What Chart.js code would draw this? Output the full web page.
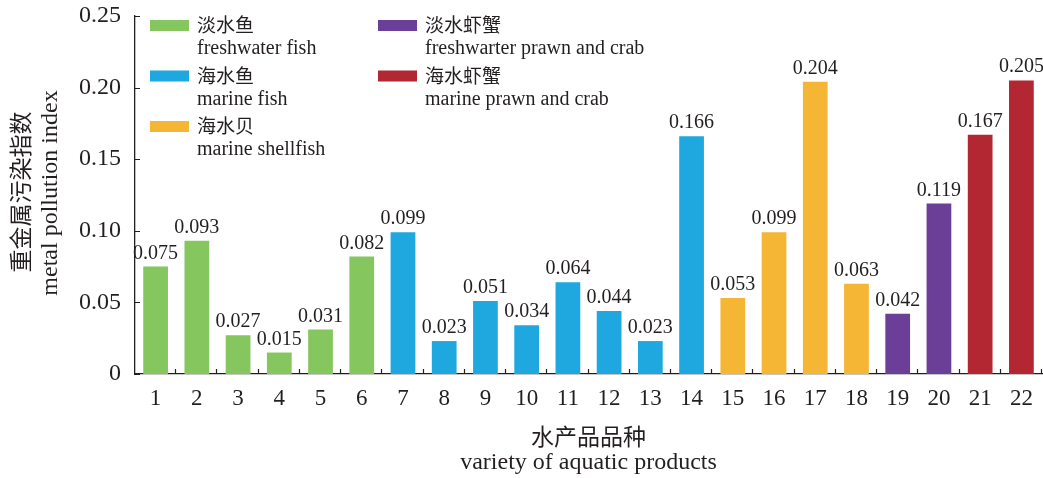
<!DOCTYPE html>
<html>
<head>
<meta charset="utf-8">
<script src="https://cdn.jsdelivr.net/npm/chart.js@4"></script>
<style>
  html, body { margin: 0; padding: 0; background: #fff; }
  #wrap { width: 1043px; height: 478px; }
</style>
</head>
<body>
<div id="wrap"><canvas id="myChart" width="1043" height="478"></canvas></div>
<script>
// 数据
const categories = ['1','2','3','4','5','6','7','8','9','10','11','12','13','14','15','16','17','18','19','20','21','22'];
const values = [0.075, 0.093, 0.027, 0.015, 0.031, 0.082, 0.099, 0.023, 0.051, 0.034, 0.064,
                0.044, 0.023, 0.166, 0.053, 0.099, 0.204, 0.063, 0.042, 0.119, 0.167, 0.205];
// group index for each bar
const groups = [0,0,0,0,0,0, 1,1,1,1,1,1,1,1, 2,2,2,2, 3,3, 4,4];
const groupNamesCn = ['淡水鱼', '海水鱼', '海水贝', '淡水虾蟹', '海水虾蟹'];
const groupNamesEn = ['freshwater fish', 'marine fish', 'marine shellfish', 'freshwarter prawn and crab', 'marine prawn and crab'];
const groupColors = ['#86c65e', '#1fa8e0', '#f5b535', '#6b3f98', '#b22731'];
const yTicks = [0, 0.05, 0.10, 0.15, 0.20, 0.25];

const serif = '"Liberation Serif", "Times New Roman", serif';
const cjk = '"Noto Sans CJK SC", sans-serif';
const ink = '#231f20';

let barColors = groups.map(g => groupColors[g]);

// value labels + inward ticks + titles + legend
const drawExtras = {
  id: 'drawExtras',
  afterDatasetsDraw(chart){
    let ctx = chart.ctx;
    let area = chart.chartArea;
    let ys = chart.scales.y;
    ctx.save();

    // value labels
    ctx.fillStyle = ink;
    ctx.font = '20px ' + serif;
    ctx.textAlign = 'center';
    ctx.textBaseline = 'alphabetic';
    chart.getDatasetMeta(0).data.forEach((bar, i) => {
      ctx.fillText(values[i].toFixed(3), bar.x, bar.y - 8);
    });

    // ticks pointing inward
    ctx.strokeStyle = ink;
    ctx.lineWidth = 1.2;
    ctx.beginPath();
    yTicks.forEach(v => {
      let y = Math.round(ys.getPixelForValue(v)) + 0.5;
      ctx.moveTo(area.left, y);
      ctx.lineTo(area.left + 5, y);
    });
    let step = (area.right - area.left) / categories.length;
    for(let i = 1; i <= categories.length; i++){
      let x = Math.round(area.left + i * step) - 0.5;
      ctx.moveTo(x, area.bottom);
      ctx.lineTo(x, area.bottom - 5);
    }
    ctx.stroke();

    // y title (two lines, rotated)
    ctx.save();
    ctx.translate(20, 192);
    ctx.rotate(-Math.PI / 2);
    ctx.textAlign = 'center';
    ctx.textBaseline = 'middle';
    ctx.font = '23px ' + cjk;
    ctx.fillText('重金属污染指数', 0, 0);
    ctx.restore();
    ctx.save();
    ctx.translate(51, 193);
    ctx.rotate(-Math.PI / 2);
    ctx.textAlign = 'center';
    ctx.textBaseline = 'middle';
    ctx.font = '24px ' + serif;
    ctx.fillText('metal pollution index', 0, 0);
    ctx.restore();

    // x title
    let cx = (area.left + area.right) / 2;
    ctx.textAlign = 'center';
    ctx.textBaseline = 'middle';
    ctx.font = '23px ' + cjk;
    ctx.fillText('水产品品种', cx, 436);
    ctx.font = '24px ' + serif;
    ctx.fillText('variety of aquatic products', cx, 463);

    // legend
    let cols = [150, 378];
    groupNamesCn.forEach((name, g) => {
      let col = g < 3 ? 0 : 1;
      let row = g < 3 ? g : g - 3;
      let bx = cols[col];
      let by = 20 + row * 50.5;
      ctx.fillStyle = groupColors[g];
      ctx.fillRect(bx, by, 39, 11);
      ctx.fillStyle = ink;
      ctx.textAlign = 'left';
      ctx.textBaseline = 'middle';
      ctx.font = '19px ' + cjk;
      ctx.fillText(name, bx + 47, by + 5);
      ctx.font = '20px ' + serif;
      ctx.fillText(groupNamesEn[g], bx + 47, by + 29);
    });

    ctx.restore();
  }
};

let ctx = document.getElementById('myChart').getContext('2d');
let myChart = new Chart(ctx, {
  type: 'bar',
  data: {
    labels: categories,
    datasets: [{
      data: values,
      backgroundColor: barColors,
      borderWidth: 0,
      barPercentage: 0.6,
      categoryPercentage: 1
    }]
  },
  options: {
    responsive: false,
    animation: false,
    devicePixelRatio: 1,
    layout: { padding: { top: 16, right: 1, left: 0, bottom: 0 } },
    plugins: {
      legend: { display: false },
      tooltip: { enabled: false }
    },
    scales: {
      x: {
        grid: { display: false, drawTicks: false },
        border: { display: true, color: ink, width: 1.3 },
        ticks: { color: ink, font: { family: serif, size: 23 }, padding: 11, maxRotation: 0, autoSkip: false },
        afterFit(scale){
          scale.height = 104;
          scale.paddingLeft = 0;
          scale.paddingRight = 0;
        }
      },
      y: {
        min: 0,
        max: 0.25,
        afterBuildTicks(scale){ scale.ticks = yTicks.map(v => ({ value: v })); },
        grid: { display: false, drawTicks: false },
        border: { display: true, color: ink, width: 1.3 },
        ticks: {
          color: ink,
          font: { family: serif, size: 24 },
          padding: 14,
          callback: v => v === 0 ? '0' : v.toFixed(2)
        },
        afterFit(scale){
          scale.width = 135;
          scale.paddingTop = 0;
          scale.paddingBottom = 0;
        }
      }
    }
  },
  plugins: [drawExtras]
});
</script>
</body>
</html>
